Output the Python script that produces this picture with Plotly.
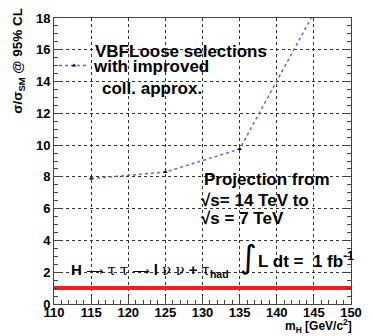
import plotly.graph_objects as go

mass = [115, 125, 135, 150]
limit = [7.9, 8.3, 9.75, 22.6]
sm_x = [110, 150]
sm_y = [1, 1]
x_ticks = [110, 115, 120, 125, 130, 135, 140, 145, 150]
y_ticks = [0, 2, 4, 6, 8, 10, 12, 14, 16, 18]

FONT = "Arial, Liberation Sans, Helvetica, sans-serif"

fig = go.Figure()
fig.add_trace(go.Scatter(
    x=sm_x, y=sm_y, mode="lines",
    line=dict(color="#f02020", width=4), showlegend=False, hoverinfo="skip"))
fig.add_trace(go.Scatter(
    x=mass, y=limit, mode="lines+markers",
    name="<b>with improved</b>",
    line=dict(color="#5a6ad8", width=1.5, dash="dot"),
    marker=dict(symbol="triangle-up", size=4, color="black"),
    showlegend=True))

axis_common = dict(
    showline=True, linecolor="#444", linewidth=1,
    ticks="inside", ticklen=8, tickcolor="#444",
    showgrid=True, gridcolor="#333", griddash="dot", gridwidth=1,
    zeroline=False,
    tickfont=dict(family=FONT, size=13, color="black", weight="bold"),
)

fig.update_xaxes(range=[110, 150], tickvals=x_ticks, mirror=True, ticklabelstandoff=-4,
                 minor=dict(dtick=1, ticks="inside", ticklen=4, tickcolor="#444", showgrid=False),
                 **axis_common)
fig.update_yaxes(range=[0, 18], tickvals=y_ticks, mirror="ticks",
                 minor=dict(dtick=0.5, ticks="inside", ticklen=4, tickcolor="#444", showgrid=False),
                 **axis_common)

def px_x(p):
    return 110 + (p - 54) / 7.63

def px_y(p):
    return (304.3 - p) / 16.28

ARROW = "<span style='font-family:DejaVu Sans;font-size:12px'>⟶</span>"
TAU = "<span style='font-family:DejaVu Serif'>τ</span>"
NU = "<span style='font-family:DejaVu Serif'>ν</span>"

ann = []
txt = dict(family=FONT, size=17, color="black")
ann.append(dict(xref="paper", yref="paper", x=-0.118, y=0.85, textangle=-90,
                text="<b>σ/σ<sub>SM</sub> @ 95% CL</b>", showarrow=False,
                font=dict(family=FONT, size=13.5, color="black"), xanchor="center", yanchor="middle"))
ann.append(dict(xref="paper", yref="paper", x=1.01, y=-0.078, xanchor="right", yanchor="middle",
                text="<b>m<sub>H</sub> [GeV/c<sup>2</sup>]</b>", showarrow=False,
                font=dict(family=FONT, size=12, color="black")))
ann.append(dict(xref="x", yref="y", x=px_x(94), y=px_y(46), xanchor="left", yanchor="middle",
                text="<b>VBFLoose selections</b>", showarrow=False, font=txt))
ann.append(dict(xref="x", yref="y", x=px_x(101), y=px_y(84), xanchor="left", yanchor="middle",
                text="<b>coll. approx.</b>", showarrow=False, font=txt))
ann.append(dict(xref="x", yref="y", x=px_x(206), y=px_y(177), xanchor="left", yanchor="middle",
                text="<b>Projection from</b>", showarrow=False, font=txt))
ann.append(dict(xref="x", yref="y", x=px_x(203), y=px_y(198), xanchor="left", yanchor="middle",
                text="<b>√s= 14 TeV to</b>", showarrow=False, font=txt))
ann.append(dict(xref="x", yref="y", x=px_x(203), y=px_y(217), xanchor="left", yanchor="middle",
                text="<b>√s = 7 TeV</b>", showarrow=False, font=txt))
ann.append(dict(xref="x", yref="y", x=px_x(243), y=px_y(256), xanchor="left", yanchor="middle",
                text="∫", showarrow=False, font=dict(family="DejaVu Sans", size=32, color="black")))
ann.append(dict(xref="x", yref="y", x=px_x(262), y=px_y(259), xanchor="left", yanchor="middle",
                text="<b>L dt =  1 fb<sup>-1</sup></b>", showarrow=False, font=txt))
ann.append(dict(xref="x", yref="y", x=px_x(69), y=px_y(270), xanchor="left", yanchor="middle",
                text=f"<b>H</b> {ARROW} {TAU} {TAU} {ARROW} <b>l</b> {NU} {NU} <b>+</b> {TAU}<sub><b>had</b></sub>",
                showarrow=False, font=dict(family=FONT, size=15, color="black")))

fig.update_layout(
    width=373, height=336,
    margin=dict(l=54, r=13, t=11, b=32),
    plot_bgcolor="white", paper_bgcolor="white",
    annotations=ann,
    legend=dict(x=0.0, y=0.895, xanchor="left", yanchor="top", bgcolor="rgba(0,0,0,0)",
                font=dict(family=FONT, size=17, color="black"), valign="middle",
                itemwidth=30, tracegroupgap=0),
)

fig.write_html("out.html")
